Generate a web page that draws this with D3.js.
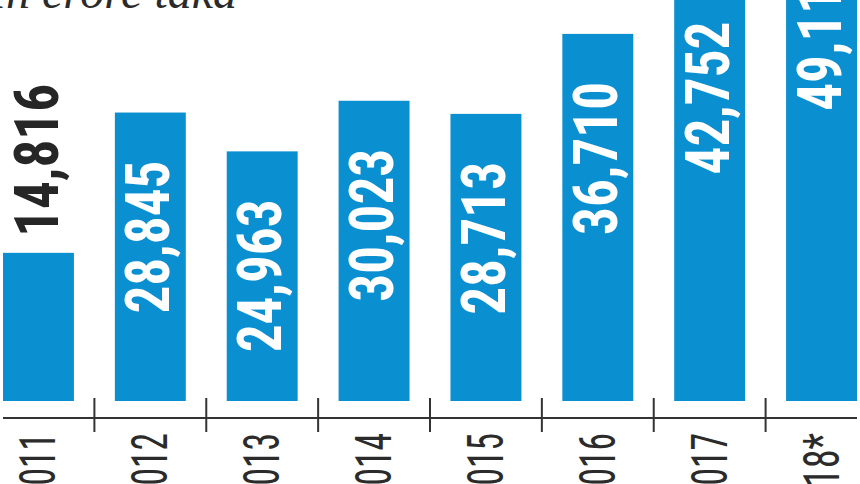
<!DOCTYPE html>
<html>
<head>
<meta charset="utf-8">
<script src="https://cdn.jsdelivr.net/npm/d3@7"></script>
<style>
  html, body { margin: 0; padding: 0; background: #fff; overflow: hidden; }
  svg { display: block; }
</style>
</head>
<body>
<svg id="chart" width="860" height="484"></svg>
<script>
// ---- data ----
const years = ["2011", "2012", "2013", "2014", "2015", "2016", "2017", "2018*"];
const values = [14816, 28845, 24963, 30023, 28713, 36710, 42752, 49115];
const valueLabels = ["14,816", "28,845", "24,963", "30,023", "28,713", "36,710", "42,752", "49,115"];
const unitLabel = "In crore taka";

const svg = d3.select("#chart");
const barColor = "#0a8fd0";
const axisColor = "#333333";
const condensed = "'Liberation Sans Narrow', 'Roboto Condensed', 'DejaVu Sans Condensed', 'Arial Narrow', sans-serif";

const x = d3.scaleBand().domain(years).range([3, 857]).paddingInner(0.366).paddingOuter(0);
const y = d3.scaleLinear().domain([0, 40100]).range([401, 0]);

// title (partially cut at top)
svg.append("text")
  .attr("x", -10).attr("y", 8)
  .attr("font-family", "'Liberation Serif', 'DejaVu Serif', serif")
  .attr("font-style", "italic")
  .attr("font-size", 48)
  .attr("fill", "#2b2b2b")
  .text(unitLabel);

// bars
svg.selectAll("rect.bar").data(years).enter().append("rect")
  .attr("class", "bar")
  .attr("x", d => x(d))
  .attr("width", x.bandwidth())
  .attr("y", (d, i) => y(values[i]))
  .attr("height", (d, i) => y(0) - y(values[i]))
  .attr("fill", barColor);

// value labels
svg.selectAll("text.val").data(years).enter().append("text")
  .attr("class", "val")
  .attr("transform", (d, i) => {
    const cx = x(d) + x.bandwidth() / 2;
    const top = y(values[i]);
    const inside = i > 0;
    const ty = inside ? top + 48 : top - 16;
    return `translate(${cx + (inside ? 19 : 20)},${ty}) rotate(-90)`;
  })
  .attr("text-anchor", (d, i) => i > 0 ? "end" : "start")
  .attr("font-family", condensed)
  .attr("font-weight", "bold")
  .attr("font-size", 62)
  .attr("textLength", 153)
  .attr("lengthAdjust", "spacingAndGlyphs")
  .attr("fill", (d, i) => i > 0 ? "#ffffff" : "#262626")
  .text((d, i) => valueLabels[i]);

// axis line
const axisG = svg.append("g");
axisG.append("line")
  .attr("x1", 3).attr("x2", 857)
  .attr("y1", 418).attr("y2", 418)
  .attr("stroke", axisColor).attr("stroke-width", 2);

// ticks between bars
const gap = x.step() - x.bandwidth();
axisG.selectAll("line.tick").data(years.slice(0, -1)).enter().append("line")
  .attr("class", "tick")
  .attr("x1", d => x(d) + x.bandwidth() + gap / 2)
  .attr("x2", d => x(d) + x.bandwidth() + gap / 2)
  .attr("y1", 398).attr("y2", 432)
  .attr("stroke", axisColor).attr("stroke-width", 2);

// year labels
axisG.selectAll("text.year").data(years).enter().append("text")
  .attr("class", "year")
  .attr("transform", d => `translate(${x(d) + x.bandwidth() / 2 + 17},433) rotate(-90)`)
  .attr("text-anchor", "end")
  .attr("font-family", condensed)
  .attr("font-size", 50)
  .attr("textLength", d => d.length > 4 ? 92 : 70)
  .attr("lengthAdjust", "spacingAndGlyphs")
  .attr("fill", "#2b2b2b")
  .text(d => d);
</script>
</body>
</html>
